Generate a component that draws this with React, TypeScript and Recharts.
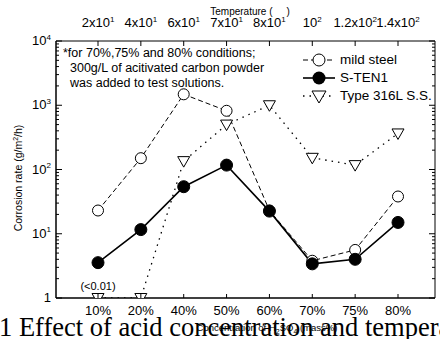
import React from 'react';
import { LineChart, Line, XAxis, YAxis, Legend, ReferenceDot } from 'recharts';

const categories = ['10%', '20%', '40%', '50%', '60%', '70%', '75%', '80%'];
const temperatureLabels = ['2x10^1', '4x10^1', '6x10^1', '7x10^1', '8x10^1', '10^2', '1.2x10^2', '1.4x10^2'];
const mildSteel = [23, 150, 1480, 820, 23, 3.8, 5.6, 38];
const sten1 = [3.55, 11.6, 54, 117, 22.5, 3.4, 4.0, 15];
const type316L = [1, 1, 135, 500, 1000, 152, 117, 364];
const yMajorTicks = [1, 10, 100, 1000, 10000];
const yMinorSteps = [2, 3, 4, 5, 6, 7, 8, 9];
const noteLines = ['*for 70%,75% and 80% conditions;', '300g/L of acitivated carbon powder', 'was added to test solutions.'];

const data = categories.map((c, i) => ({
  cat: c,
  temp: temperatureLabels[i],
  mild: mildSteel[i],
  sten: sten1[i],
  ss: type316L[i],
}));

const yTicks = [
  ...yMajorTicks,
  ...yMajorTicks.slice(0, -1).flatMap((d) => yMinorSteps.map((s) => s * d)),
].sort((a, b) => a - b);

const FONT = '"Liberation Sans", Arial, Helvetica, sans-serif';
const SERIF = '"Liberation Serif", "Times New Roman", serif';

const isMajor = (v: number) => yMajorTicks.includes(v);
const powerLabel = (v: number) => (v === 1 ? '1' : '10^' + Math.round(Math.log10(v)));

function SupText({ x, y, text, anchor, size, supSize }: any) {
  const [base, exp] = String(text).split('^');
  return (
    <text x={x} y={y} textAnchor={anchor} fontFamily={FONT} fontSize={size} fill="#000">
      <tspan>{base}</tspan>
      {exp !== undefined && (
        <tspan dy={-size * 0.42} fontSize={supSize}>
          {exp}
        </tspan>
      )}
    </text>
  );
}

const LeftTick = (props: any) => {
  const { x, y, payload } = props;
  const v = payload.value;
  const major = isMajor(v);
  return (
    <g>
      <line x1={x} x2={x + (major ? 6 : 3)} y1={y} y2={y} stroke="#000" strokeWidth={1} />
      {major && <SupText x={x - 5} y={y + 4} text={powerLabel(v)} anchor="end" size={13} supSize={8} />}
    </g>
  );
};

const RightTick = (props: any) => {
  const { x, y, payload } = props;
  const major = isMajor(payload.value);
  return <line x1={x} x2={x - (major ? 6 : 3)} y1={y} y2={y} stroke="#000" strokeWidth={1} />;
};

const TopTick = (props: any) => {
  const { x, y, index } = props;
  return (
    <g>
      <line x1={x} x2={x} y1={y} y2={y + 5} stroke="#000" strokeWidth={1} />
      <SupText x={x} y={y - 14} text={temperatureLabels[index]} anchor="middle" size={13} supSize={8} />
    </g>
  );
};

const BottomTick = (props: any) => {
  const { x, y, payload } = props;
  return (
    <g>
      <line x1={x} x2={x} y1={y} y2={y - 4} stroke="#000" strokeWidth={1} />
      <text x={x} y={y + 17} textAnchor="middle" fontFamily={FONT} fontSize={13} fill="#000">
        {payload.value}
      </text>
    </g>
  );
};

const openCircle = (p: any) => (
  <circle key={`m-${p.index}`} cx={p.cx} cy={p.cy} r={5.5} fill="#fff" stroke="#000" strokeWidth={1} />
);
const filledCircle = (p: any) => (
  <circle key={`s-${p.index}`} cx={p.cx} cy={p.cy} r={6} fill="#000" stroke="#000" strokeWidth={1} />
);
const triPath = (cx: number, cy: number) => `M${cx - 6},${cy - 4.5} L${cx + 6},${cy - 4.5} L${cx},${cy + 6} Z`;
const triangle = (p: any) => (
  <path key={`t-${p.index}`} d={triPath(p.cx, p.cy)} fill="#fff" stroke="#000" strokeWidth={1} />
);

const series = [
  { key: 'ss', name: 'Type 316L S.S.', dash: '1.5 5', width: 1.3, dot: triangle, marker: 'tri' },
  { key: 'mild', name: 'mild steel', dash: '5 3', width: 1, dot: openCircle, marker: 'open' },
  { key: 'sten', name: 'S-TEN1', dash: undefined, width: 1.6, dot: filledCircle, marker: 'filled' },
];
const legendOrder = ['mild', 'sten', 'ss'];

const LegendContent = () => (
  <div style={{ fontFamily: FONT }}>
    {legendOrder.map((k) => {
      const s = series.find((e) => e.key === k)!;
      return (
        <div key={k} style={{ display: 'flex', alignItems: 'center', height: 18 }}>
          <svg width={39} height={18} style={{ display: 'block' }}>
            <line x1={2} x2={34} y1={9} y2={9} stroke="#000" strokeWidth={s.width} strokeDasharray={s.dash} />
            {s.marker === 'open' && <circle cx={18} cy={9} r={6} fill="#fff" stroke="#000" />}
            {s.marker === 'filled' && <circle cx={18} cy={9} r={6.5} fill="#000" />}
            {s.marker === 'tri' && <path d={`M11,4 L25,4 L18,16 Z`} fill="#fff" stroke="#000" />}
          </svg>
          <span style={{ fontSize: 13.5, color: '#000', lineHeight: '18px' }}>{s.name}</span>
        </div>
      );
    })}
  </div>
);

export default function App() {
  return (
    <div style={{ position: 'fixed', left: 0, top: 0, width: 440, height: 339, overflow: 'hidden', background: '#fff' }}>
      <LineChart width={440} height={339} data={data} margin={{ top: 21, right: 0, bottom: 21, left: 26 }}>
        <XAxis
          xAxisId="bottom"
          dataKey="cat"
          orientation="bottom"
          height={20}
          padding={{ left: 42, right: 37 }}
          tickLine={false}
          tickSize={0}
          tickMargin={0}
          interval={0}
          tick={<BottomTick />}
          axisLine={{ stroke: '#000', strokeWidth: 1.5 }}
        />
        <XAxis
          xAxisId="top"
          dataKey="cat"
          orientation="top"
          height={20}
          padding={{ left: 42, right: 37 }}
          tickLine={false}
          tickSize={0}
          tickMargin={0}
          interval={0}
          tick={<TopTick />}
          axisLine={{ stroke: '#000', strokeWidth: 1 }}
        />
        <YAxis
          yAxisId="left"
          scale="log"
          domain={[1, 10000]}
          ticks={yTicks}
          allowDataOverflow
          width={30}
          tickLine={false}
          tickSize={0}
          tickMargin={0}
          interval={0}
          tick={<LeftTick />}
          axisLine={{ stroke: '#000', strokeWidth: 1.5 }}
        />
        <YAxis
          yAxisId="right"
          orientation="right"
          scale="log"
          domain={[1, 10000]}
          ticks={yTicks}
          allowDataOverflow
          width={5}
          tickLine={false}
          tickSize={0}
          tickMargin={0}
          interval={0}
          tick={<RightTick />}
          axisLine={{ stroke: '#000', strokeWidth: 1 }}
        />
        {series.map((s) => (
          <Line
            key={s.key}
            xAxisId="bottom"
            yAxisId="left"
            type="linear"
            dataKey={s.key}
            name={s.name}
            stroke="#000"
            strokeWidth={s.width}
            strokeDasharray={s.dash}
            dot={s.dot}
            activeDot={false}
            isAnimationActive={false}
          />
        ))}
        <ReferenceDot
          xAxisId="bottom"
          yAxisId="left"
          x={categories[0]}
          y={1}
          r={0}
          fill="none"
          stroke="none"
          label={{ value: '(<0.01)', position: 'top', offset: 8, fontSize: 11, fontFamily: FONT, fill: '#000' }}
        />
        <Legend
          layout="vertical"
          align="center"
          verticalAlign="middle"
          wrapperStyle={{ position: 'absolute', left: 301, top: 51, width: 139 }}
          content={<LegendContent />}
        />
        <text fontFamily={FONT} fontSize={12.5} fill="#000">
          <tspan x={63} y={57}>{noteLines[0]}</tspan>
          <tspan x={70} y={72}>{noteLines[1]}</tspan>
          <tspan x={70} y={87}>{noteLines[2]}</tspan>
        </text>
        <text x={250} y={15} textAnchor="middle" fontFamily={FONT} fontSize={10} fill="#000">
          {'Temperature (\u00a0\u00a0\u00a0\u00a0\u00a0)'}
        </text>
        <text transform="translate(22,178) rotate(-90)" textAnchor="middle" fontFamily={FONT} fontSize={10.5} fill="#000">
          <tspan>Corrosion rate (g/m</tspan>
          <tspan dy={-4} fontSize={7}>2</tspan>
          <tspan dy={4}>/h)</tspan>
        </text>
        <text x={267} y={331} textAnchor="middle" fontFamily={FONT} fontSize={9.5} fill="#000">
          <tspan>Concentration of H</tspan>
          <tspan dy={3} fontSize={7}>2</tspan>
          <tspan dy={-3}>SO</tspan>
          <tspan dy={3} fontSize={7}>4</tspan>
          <tspan dy={-3}> (mass%)</tspan>
        </text>
      </LineChart>
      <div
        style={{
          position: 'absolute',
          left: -1,
          top: 312,
          fontFamily: SERIF,
          fontSize: 26.5,
          lineHeight: '30px',
          whiteSpace: 'nowrap',
          color: '#000',
          pointerEvents: 'none',
        }}
      >
        1 Effect of acid concentration and temperature on corrosion rate
      </div>
    </div>
  );
}
